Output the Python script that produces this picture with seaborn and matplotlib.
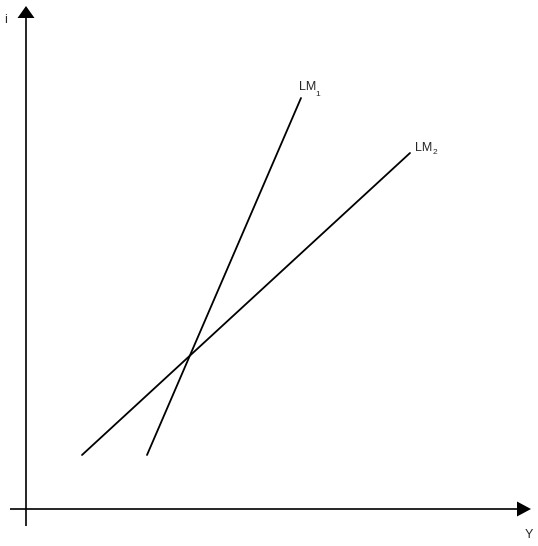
import matplotlib
matplotlib.use("Agg")
import matplotlib.pyplot as plt
from matplotlib.patches import Polygon
import seaborn as sns
import pandas as pd

# Data (Y = output, i = interest rate), arbitrary units
lm1_Y = [121, 275]
lm1_i = [54, 411]
lm2_Y = [56, 384]
lm2_i = [54, 356]
curve_labels = ["LM", "LM"]
curve_subs = ["1", "2"]
x_label = "Y"
y_label = "i"

sns.set_style("white")
plt.rcParams["font.family"] = ["Liberation Sans", "DejaVu Sans"]

df = pd.DataFrame({
    "Y": lm1_Y + lm2_Y,
    "i": lm1_i + lm2_i,
    "curve": ["LM1"] * len(lm1_Y) + ["LM2"] * len(lm2_Y),
})

fig = plt.figure(figsize=(5.38, 5.46), dpi=100)
ax = fig.add_axes([0, 0, 1, 1])
sns.lineplot(data=df, x="Y", y="i", hue="curve", palette=["black", "black"],
             legend=False, ax=ax, linewidth=1.3, estimator=None, sort=False)

ax.set_xlim(-26, 512)
ax.set_ylim(-37, 509)
ax.axis("off")

# axes with arrows
ax.plot([0, 0], [-17, 492], color="black", lw=1.2, solid_capstyle="butt")
ax.plot([-16, 492], [0, 0], color="black", lw=1.2, solid_capstyle="butt")
ax.add_patch(Polygon([[-8.5, 491], [8.5, 491], [0, 503]], closed=True,
                     color="black", lw=0))
ax.add_patch(Polygon([[491, 7.5], [491, -7.5], [505, 0]], closed=True,
                     color="black", lw=0))

ax.text(-20, 489, y_label, fontsize=9, ha="center", va="center")
ax.text(503, -26, x_label, fontsize=9, ha="center", va="center")

# curve labels
ax.text(273, 422.5, curve_labels[0], fontsize=9, ha="left", va="center")
ax.text(289.5, 415, curve_subs[0], fontsize=6, ha="left", va="center")
ax.text(389, 361, curve_labels[1], fontsize=9, ha="left", va="center")
ax.text(406.5, 356, curve_subs[1], fontsize=6, ha="left", va="center")

fig.savefig("out.png", dpi=100)
